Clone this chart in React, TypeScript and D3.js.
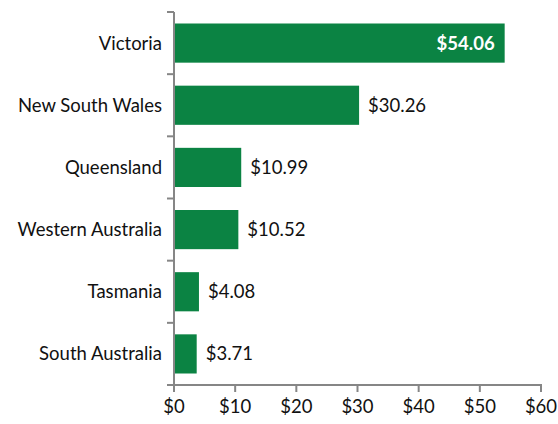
import React, { useEffect, useRef } from "react";
import * as d3 from "d3";

const states = [
  "Victoria",
  "New South Wales",
  "Queensland",
  "Western Australia",
  "Tasmania",
  "South Australia",
];
const values = [54.06, 30.26, 10.99, 10.52, 4.08, 3.71];
const xTicks = [0, 10, 20, 30, 40, 50, 60];

const width = 558;
const height = 424;
const margin = { top: 12, right: 17, bottom: 39, left: 174 };
const green = "#0b8343";
const axisGray = "#868686";
const font = "Lato, 'Open Sans', sans-serif";
const fontSize = 18.5;

export default function App() {
  const svgRef = useRef<SVGSVGElement>(null);

  useEffect(() => {
    const svg = d3.select(svgRef.current);
    svg.selectAll("*").remove();

    const x = d3
      .scaleLinear()
      .domain([0, 60])
      .range([margin.left, width - margin.right]);
    const y = d3
      .scaleBand()
      .domain(states)
      .range([margin.top, height - margin.bottom])
      .paddingInner(0.37)
      .paddingOuter(0.185);

    const bottom = height - margin.bottom;

    // bars
    svg
      .append("g")
      .selectAll("rect")
      .data(states)
      .enter()
      .append("rect")
      .attr("x", x(0))
      .attr("y", (d) => y(d)!)
      .attr("width", (d, i) => x(values[i]) - x(0))
      .attr("height", y.bandwidth())
      .attr("fill", green);

    // data labels
    svg
      .append("g")
      .selectAll("text")
      .data(states)
      .enter()
      .append("text")
      .attr("x", (d, i) => (i === 0 ? x(values[i]) - 10 : x(values[i]) + 9))
      .attr("y", (d) => y(d)! + y.bandwidth() / 2)
      .attr("dy", "0.35em")
      .attr("text-anchor", (d, i) => (i === 0 ? "end" : "start"))
      .attr("font-family", font)
      .attr("font-size", fontSize)
      .attr("font-weight", (d, i) => (i === 0 ? 700 : 400))
      .attr("fill", (d, i) => (i === 0 ? "#ffffff" : "#111"))
      .text((d, i) => `$${values[i].toFixed(2)}`);

    // y axis line with boundary ticks
    const yAxis = svg.append("g");
    yAxis
      .append("line")
      .attr("x1", x(0))
      .attr("x2", x(0))
      .attr("y1", margin.top)
      .attr("y2", bottom)
      .attr("stroke", axisGray)
      .attr("stroke-width", 2);
    const step = y.step();
    const bounds = d3.range(states.length + 1).map((i) => margin.top + i * step);
    yAxis
      .selectAll("line.tick")
      .data(bounds)
      .enter()
      .append("line")
      .attr("class", "tick")
      .attr("x1", x(0) - 7)
      .attr("x2", x(0))
      .attr("y1", (d) => d)
      .attr("y2", (d) => d)
      .attr("stroke", axisGray)
      .attr("stroke-width", 2);
    yAxis
      .selectAll("text")
      .data(states)
      .enter()
      .append("text")
      .attr("x", x(0) - 12)
      .attr("y", (d) => y(d)! + y.bandwidth() / 2)
      .attr("dy", "0.35em")
      .attr("text-anchor", "end")
      .attr("font-family", font)
      .attr("font-size", fontSize)
      .attr("fill", "#111")
      .text((d) => d);

    // x axis
    const xAxis = svg.append("g");
    xAxis
      .append("line")
      .attr("x1", x(0) - 1)
      .attr("x2", x(60) + 1)
      .attr("y1", bottom)
      .attr("y2", bottom)
      .attr("stroke", axisGray)
      .attr("stroke-width", 2);
    xAxis
      .selectAll("line.tick")
      .data(xTicks)
      .enter()
      .append("line")
      .attr("class", "tick")
      .attr("x1", (d) => x(d))
      .attr("x2", (d) => x(d))
      .attr("y1", bottom)
      .attr("y2", bottom + 7)
      .attr("stroke", axisGray)
      .attr("stroke-width", 2);
    xAxis
      .selectAll("text")
      .data(xTicks)
      .enter()
      .append("text")
      .attr("x", (d) => x(d))
      .attr("y", bottom + 28)
      .attr("text-anchor", "middle")
      .attr("font-family", font)
      .attr("font-size", fontSize)
      .attr("fill", "#111")
      .text((d) => `$${d}`);
  }, []);

  return (
    <svg
      ref={svgRef}
      width={width}
      height={height}
      style={{ display: "block", position: "absolute", left: 0, top: 0 }}
    />
  );
}
